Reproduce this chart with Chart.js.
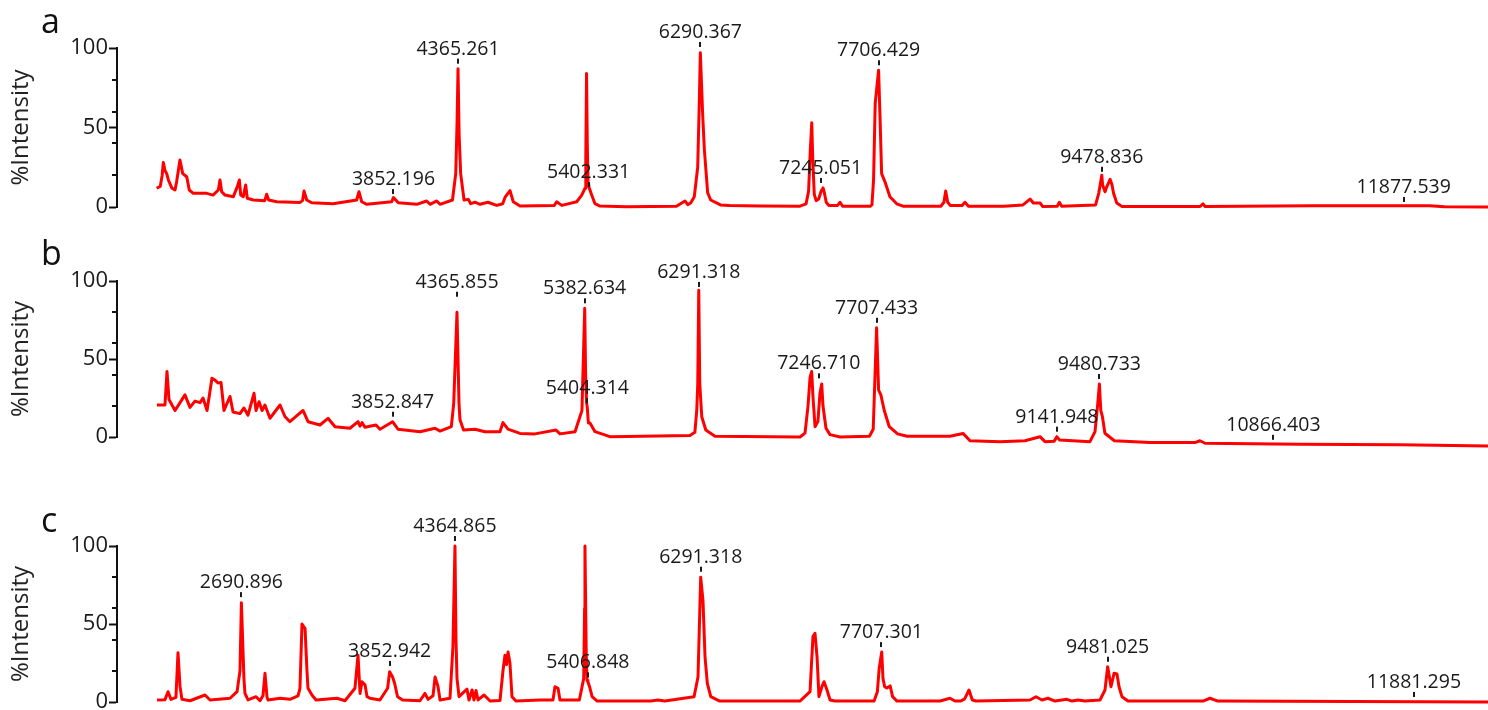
<!DOCTYPE html>
<html>
<head>
<meta charset="utf-8">
<script src="https://cdn.jsdelivr.net/npm/chart.js@4.4.0/dist/chart.umd.min.js"></script>
<style>
  html, body { margin: 0; padding: 0; background: #fff; overflow: hidden; width: 1488px; height: 710px; }
  .panel { position: absolute; left: 0; }
</style>
</head>
<body>
<canvas id="panelA" class="panel" width="1488" height="230" style="top:0px"></canvas>
<canvas id="panelB" class="panel" width="1488" height="240" style="top:230px"></canvas>
<canvas id="panelC" class="panel" width="1488" height="250" style="top:470px"></canvas>
<script>
// spectra: [m/z, %intensity]
const spectrumA = [
  [1971,11.8],[2000,13],[2015,20],[2024,28],[2037,23],[2051,21],[2064,17],[2091,12],[2117,10.7],[2130,16],
  [2156,29.6],[2178,21],[2210,19],[2230,10.7],[2262,8.6],[2369,8.6],[2419,7.5],[2461,10.7],[2474,17],[2488,9.6],
  [2514,7.5],[2580,6.5],[2612,12.8],[2628,17],[2639,7.5],[2659,6.5],[2678,13.8],[2691,5.5],[2739,4.4],[2830,4],
  [2845,8],[2861,4.4],[2925,3.3],[3110,2.9],[3130,4],[3142,10],[3163,4.4],[3203,2.7],[3372,2.1],[3560,4.4],
  [3578,9.6],[3600,3.3],[3640,1.7],[3838,3.3],[3852,5.9],[3891,2.7],[4037,1.7],[4116,3.8],[4143,1.7],[4196,3.8],
  [4222,1.7],[4321,4.4],[4347,21],[4358,55],[4365,87],[4374,45],[4386,21],[4413,4.4],[4447,4.8],[4466,2.1],
  [4500,3],[4540,1.7],[4603,3],[4672,1],[4720,2],[4738,6],[4778,10.3],[4804,3.3],[4857,0.6],[5130,1],
  [5149,3.3],[5189,1],[5308,3.3],[5348,7.5],[5374,11.8],[5380,30],[5386,84],[5392,40],[5398,14],[5404,12.8],
  [5427,7.5],[5453,2.1],[5493,0.6],[5700,0.2],[6100,0.5],[6168,3.8],[6190,1.5],[6213,2.5],[6242,6.5],[6269,25],
  [6282,67],[6290,97],[6308,59],[6322,36],[6348,9],[6372,4.4],[6450,1.3],[6520,1],[6764,0.7],[7082,0.5],
  [7130,2],[7150,10],[7163,35],[7175,53],[7183,30],[7195,8],[7210,4],[7230,5],[7250,10],[7265,12],
  [7275,9],[7290,3],[7310,1],[7380,1],[7400,3],[7420,0.5],[7640,0.5],[7653,1.3],[7666,17],[7679,65],
  [7706,86],[7718,55],[7730,21],[7756,16],[7796,6.5],[7850,2],[7900,0.5],[8200,0.5],[8225,3],[8239,10],
  [8255,3],[8275,1],[8370,1],[8392,3],[8420,0.5],[8700,0.5],[8853,1.3],[8909,5],[8935,2.5],[8990,2.5],
  [9010,0.3],[9125,0.5],[9142,3],[9160,0.5],[9430,1.3],[9455,8.8],[9479,20],[9485,14],[9505,9.6],[9515,12],
  [9545,17.4],[9560,14],[9572,8.8],[9598,2.5],[9640,0.3],[10260,0.3],[10283,2],[10300,0.3],[11157,0.8],[12086,0.8],
  [12200,0.2],[12547,0]
];
const spectrumB = [
  [1977,20.5],[2041,20.5],[2057,42],[2073,24],[2121,17],[2161,22],[2200,27],[2240,19],[2280,23],[2320,22],
  [2344,25],[2376,17],[2415,37.6],[2439,36.5],[2463,34.6],[2487,35],[2511,17],[2559,26],[2583,16],[2638,15],
  [2670,18.6],[2702,14],[2750,28],[2766,17],[2790,22.6],[2814,17],[2837,20.5],[2877,12],[2957,20.5],[2997,13],
  [3036,9.8],[3140,17],[3180,9.8],[3275,7.7],[3339,12],[3395,6.6],[3514,5.6],[3578,9.8],[3594,7],[3610,9.2],
  [3634,6.2],[3721,7.7],[3753,5],[3853,9.8],[3896,5],[4072,3.4],[4191,5.6],[4231,3.8],[4321,6.6],[4340,21.6],
  [4366,80],[4382,21.6],[4390,11],[4418,4.5],[4509,5],[4589,3.4],[4708,3.4],[4732,9.2],[4772,5],[4868,2.3],
  [4987,2],[5154,4.5],[5186,2],[5306,3.4],[5361,17],[5383,82.5],[5390,40],[5398,22],[5404,18.4],[5412,9],
  [5425,9],[5465,3.4],[5584,0.2],[6221,1],[6260,3],[6275,17],[6283,34],[6291,94],[6299,34],[6315,13],
  [6347,4.5],[6420,0.5],[7097,0],[7137,2.5],[7161,20],[7177,38],[7190,42],[7201,25],[7217,6.6],[7240,10],
  [7256,28],[7270,34],[7280,20],[7304,5.6],[7336,1.5],[7416,0],[7650,0.5],[7680,5],[7707,70],[7723,30],
  [7741,27],[7768,17],[7808,6.6],[7874,2],[7950,0.5],[8291,0.5],[8395,2.3],[8451,-2.4],[8689,-3],[8889,-2.4],
  [9008,0.2],[9048,-3],[9120,-2.8],[9142,0.2],[9165,-2],[9406,-3],[9446,3.4],[9468,21.6],[9481,34],[9492,17],
  [9505,13],[9525,2.4],[9600,-2.4],[9884,-3.6],[10242,-3.6],[10282,-2.4],[10322,-4],[11078,-4.7],[11874,-5],[12575,-5.8]
];
const spectrumC = [
  [2030,1.3],[2092,1.5],[2116,6.6],[2139,1.7],[2178,3],[2194,31.6],[2210,10],[2225,1.7],[2288,0.8],[2406,4.5],
  [2445,1.3],[2602,2.4],[2657,6.6],[2680,20],[2691,63.6],[2711,15],[2719,5.5],[2743,1.3],[2806,3.4],[2837,0.8],
  [2860,4],[2876,18.4],[2892,3],[2900,1.3],[2994,2.4],[3072,1.7],[3135,4],[3150,8.8],[3166,50],[3190,47],
  [3205,20],[3213,8.8],[3244,4.5],[3276,1.3],[3440,2.4],[3503,0.8],[3581,8.8],[3605,30],[3621,5.5],[3636,13],
  [3660,11],[3676,3.4],[3699,2.4],[3777,1.3],[3837,8.8],[3853,19.4],[3876,16],[3892,12],[3915,3.4],[3955,1.3],
  [4091,0.8],[4130,5.5],[4154,1.7],[4193,4],[4209,16],[4232,10],[4248,1.3],[4326,2.4],[4349,35.4],[4365,100],
  [4373,40],[4381,15],[4397,3.4],[4459,8.3],[4475,1.3],[4499,7.7],[4514,1.3],[4530,7.4],[4546,1.3],[4593,4.5],
  [4640,0.6],[4718,1],[4742,20.5],[4757,30],[4769,24],[4781,32],[4796,25],[4812,3.4],[4843,0.6],[5032,1.3],
  [5133,1.3],[5149,9.8],[5173,8.8],[5188,1.3],[5306,1.3],[5340,1.3],[5361,9.8],[5374,15],[5381,60],[5384,100],
  [5388,72],[5394,30],[5400,14],[5407,13],[5420,9.8],[5440,3.4],[5480,0.6],[5900,0.6],[5956,1.3],[6010,0.6],
  [6239,3.4],[6270,16],[6291,80],[6309,65],[6325,29],[6343,12],[6370,3.4],[6440,0.6],[7069,0.6],[7148,6.6],
  [7171,42],[7187,44],[7203,29],[7218,3.4],[7242,10],[7258,13],[7281,7.7],[7305,1.3],[7344,0.6],[7650,0.6],
  [7676,6.6],[7690,21.5],[7710,32],[7720,15],[7733,9.8],[7750,9],[7776,10.3],[7795,3.4],[7830,0.6],[8167,0.6],
  [8245,2.4],[8284,0.6],[8330,0.6],[8360,2],[8394,7.7],[8420,1.3],[8450,0.6],[8872,1.3],[8919,3.4],[8966,1.3],
  [9013,2.4],[9068,0.6],[9162,1.7],[9201,0.6],[9248,1.3],[9303,0.6],[9421,1.3],[9460,7.7],[9481,22.6],[9507,9.8],
  [9531,18.4],[9554,18],[9570,9.8],[9593,3.4],[9640,0.6],[10228,0.6],[10283,2.4],[10345,0.6],[12462,0]
];

// labelled peaks: [m/z, height the marker sits on]
const peaksA = [[3852.196,5],[4365.261,87],[5402.331,9.4],[6290.367,97.5],[7245.051,12],[7706.429,86],[9478.836,19],[11877.539,0]];
const peaksB = [[3852.847,9.8],[4365.855,86.7],[5382.634,82.5],[5404.314,18.4],[6291.318,93],[7246.710,34.4],[7707.433,70],[9141.948,0.2],[9480.733,34],[10866.403,-5]];
const peaksC = [[2690.896,64],[3852.942,19.9],[4364.865,100],[5406.848,12.6],[6291.318,80.3],[7707.301,32],[9481.025,22.6],[11881.295,0]];

const yTicks = [0, 50, 100];
const yMinorTicks = [20, 40, 60, 80];

function annotate(letter, letterY, peaks) {
    return {
        id: 'annotate' + letter,
        afterDraw(chart) {
            const ctx = chart.ctx;
            const xs = chart.scales.x;
            const ys = chart.scales.y;
            const left = chart.chartArea.left;
            ctx.save();
            ctx.strokeStyle = '#111';
            ctx.lineWidth = 2;
            yMinorTicks.forEach(function (v) {
                const y = Math.round(ys.getPixelForValue(v));
                ctx.beginPath();
                ctx.moveTo(left - 5, y);
                ctx.lineTo(left, y);
                ctx.stroke();
            });
            ctx.fillStyle = '#1a1a1a';
            ctx.font = '19.5px "Open Sans"';
            ctx.textAlign = 'center';
            ctx.textBaseline = 'alphabetic';
            peaks.forEach(function (p) {
                const x = xs.getPixelForValue(p[0]);
                const y = ys.getPixelForValue(p[1]);
                ctx.fillRect(Math.round(x) - 1, y - 10, 2, 5);
                ctx.fillText(p[0].toFixed(3), x, y - 14);
            });
            ctx.font = '34px "Open Sans"';
            ctx.textAlign = 'left';
            ctx.fillStyle = '#111';
            ctx.fillText(letter, 41, letterY);
            ctx.restore();
        }
    };
}

function makeChart(id, letter, letterY, spectrum, peaks, xMin, xMax, padTop, padBottom) {
    new Chart(document.getElementById(id), {
        type: 'line',
        data: {
            datasets: [{
                data: spectrum.map(function (p) { return { x: p[0], y: p[1] }; }),
                borderColor: '#ff0000',
                borderWidth: 3,
                borderJoinStyle: 'round',
                pointRadius: 0,
                tension: 0,
                fill: false,
                clip: false
            }]
        },
        options: {
            responsive: false,
            animation: false,
            layout: { padding: { top: padTop, bottom: padBottom, left: 0, right: 0 } },
            plugins: { legend: { display: false }, tooltip: { enabled: false } },
            scales: {
                x: { type: 'linear', min: xMin, max: xMax, display: false },
                y: {
                    min: 0,
                    max: 100,
                    afterBuildTicks: function (scale) {
                        scale.ticks = yTicks.map(function (v) { return { value: v }; });
                    },
                    afterFit: function (scale) { scale.width = 117; },
                    border: { display: true, color: '#111', width: 2 },
                    grid: { drawOnChartArea: false, drawTicks: true, tickLength: 8, tickColor: '#111', tickWidth: 2 },
                    ticks: {
                        color: '#1a1a1a',
                        font: { family: 'Open Sans', size: 22 },
                        padding: 1
                    },
                    title: {
                        display: true,
                        text: '%Intensity',
                        color: '#222',
                        font: { family: 'Open Sans', size: 24 },
                        padding: { top: 7, bottom: 0 }
                    }
                }
            }
        },
        plugins: [annotate(letter, letterY, peaks)]
    });
}

makeChart('panelA', 'a', 33, spectrumA, peaksA, 1656, 12547, 48, 23);
makeChart('panelB', 'b', 35, spectrumB, peaksB, 1659, 12575, 51, 33);
makeChart('panelC', 'c', 62, spectrumC, peaksC, 1716, 12462, 76, 18);
</script>
</body>
</html>
